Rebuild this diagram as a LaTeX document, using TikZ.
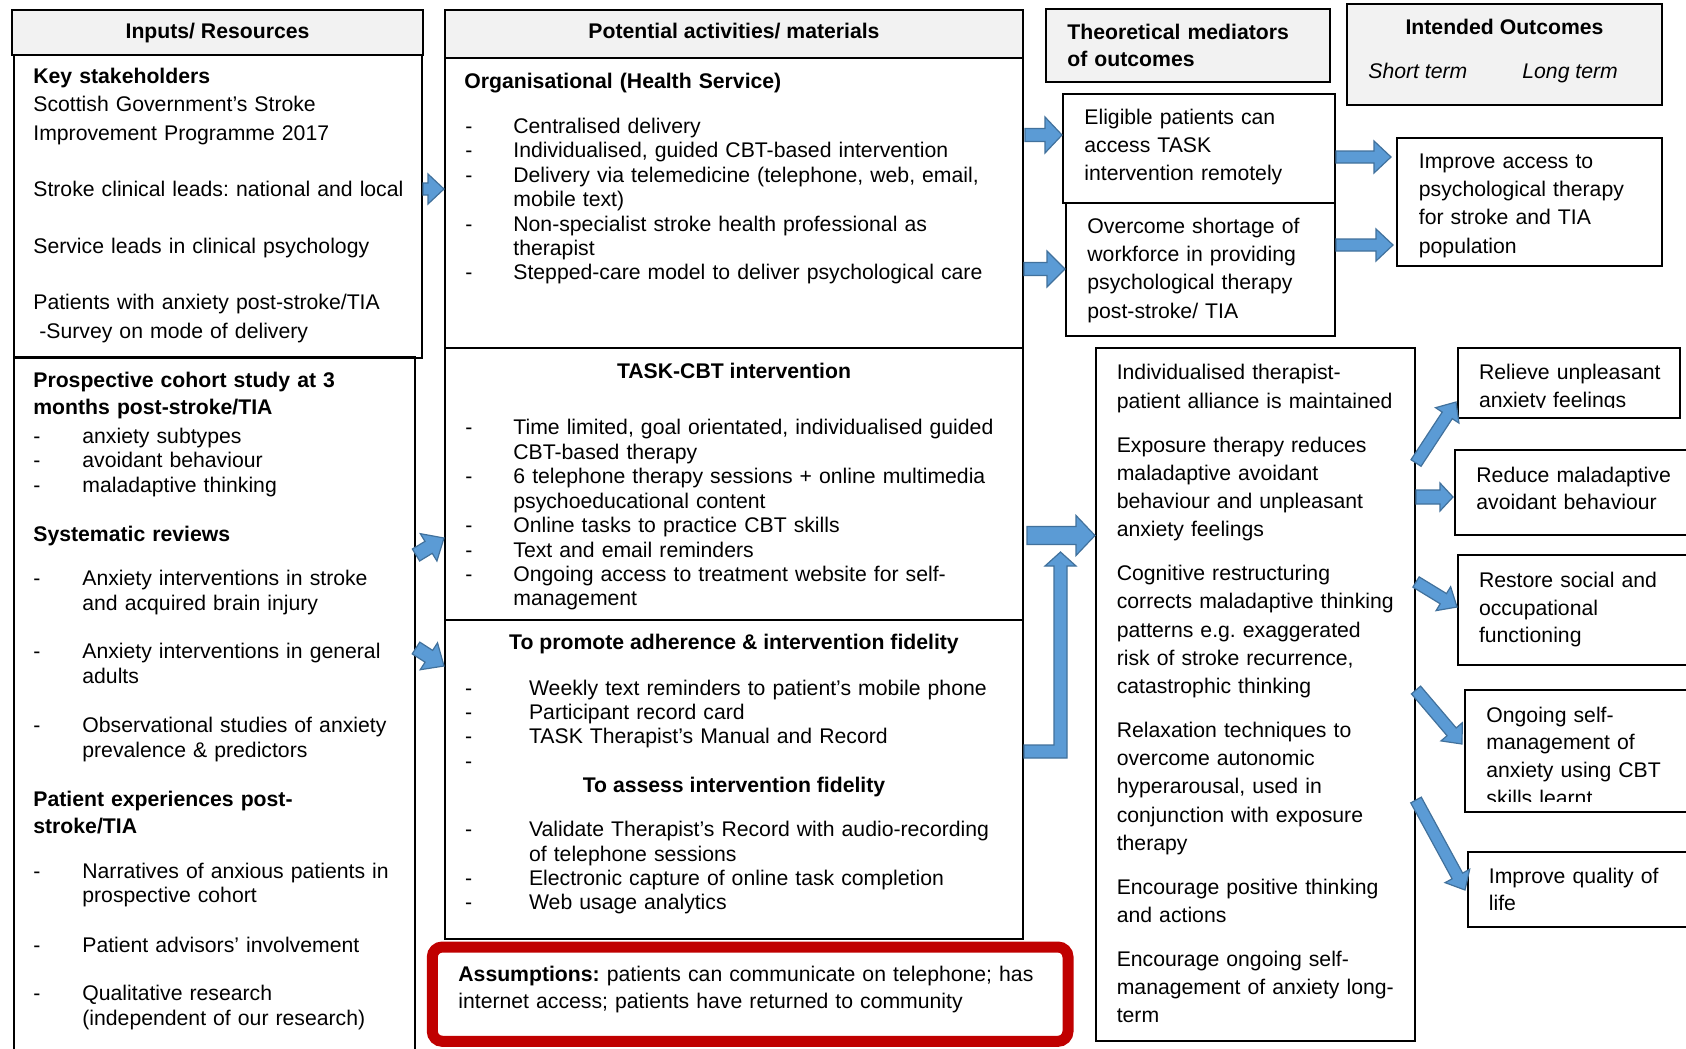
\documentclass[tikz,border=0pt]{standalone}
\usepackage{fontspec}
\setmainfont{Liberation Sans}
\usetikzlibrary{calc,fit}
\definecolor{hdrgray}{HTML}{F2F2F2}
\definecolor{arrowblue}{HTML}{5B9BD5}
\definecolor{arrowedge}{HTML}{41719C}
\definecolor{assumpred}{HTML}{C00000}
\frenchspacing
% body font at a given baseline skip
\newcommand\fs[1]{\fontsize{10.6pt}{#1}\selectfont}
% list dash hanging to the left of the item text
\newcommand\dsh[1]{\leavevmode\llap{\makebox[#1][l]{-}}}
% block arrow: tail, tip, half shaft width, half head width, head length
\newcommand\blockarrow[5]{%
  \coordinate (ba-h) at ($(#2)!#5!(#1)$);
  \draw[barrow] ($(#1)!#3!90:(#2)$) -- ($(ba-h)!#3!90:(#2)$) -- ($(ba-h)!#4!90:(#2)$) -- (#2)
    -- ($(ba-h)!#4!-90:(#2)$) -- ($(ba-h)!#3!-90:(#2)$) -- ($(#1)!#3!-90:(#2)$) -- cycle;}
\begin{document}
\begin{tikzpicture}[x=0.5pt,y=-0.5pt,
  box/.style={draw=black, line width=1pt, inner sep=0pt},
  hdr/.style={box, fill=hdrgray, line width=1.3pt},
  assum/.style={draw=assumpred, line width=5.5pt, rounded corners=5pt, fill=white, inner sep=0pt},
  barrow/.style={fill=arrowblue, draw=arrowedge, line width=0.6pt, line join=miter},
  txt/.style={anchor=base west, inner sep=0pt, align=left, text width=#1},
  ttl/.style={anchor=base, inner sep=0pt, font=\fs{13pt}\bfseries}]
\useasboundingbox (0,0) rectangle (1686,1049);
\fill[white] (0,0) rectangle (1686,1049);
\begin{scope}
\clip (0,0) rectangle (1686,1049);

% ---------------- Inputs / Resources ----------------
\node[hdr, fit={(12,10) (423,55)}] (h-inputs) {};
\node[ttl] (t-inputs) at (h-inputs.center |- 0,38.5) {Inputs/ Resources};
\node[box, fit={(14,357) (415,1060)}] (b-evid) {};
\node[box, fit={(14,55) (422,358)}] (b-stake) {};

\node[txt=192pt, font=\fs{14.15pt}] (x-stake) at (33,83.5)
  {\textbf{Key stakeholders}\\ Scottish Government’s Stroke\\ Improvement Programme 2017\\[14.15pt]
   Stroke clinical leads: national and local\\[14.15pt]
   Service leads in clinical psychology\\[14.15pt]
   Patients with anxiety post-stroke/TIA\\ \hspace*{3pt}-Survey on mode of delivery};

\node[txt=172pt, font=\fs{13.5pt}\bfseries] (x-cohort) at (33,387.5)
  {Prospective cohort study at 3\\ months post-stroke/TIA};
\node[txt=160pt, font=\fs{12.35pt}] (x-cohort-list) at (82,443)
  {\dsh{24.5pt}anxiety subtypes\\ \dsh{24.5pt}avoidant behaviour\\ \dsh{24.5pt}maladaptive thinking};
\node[txt=172pt, font=\fs{12pt}\bfseries] (x-reviews) at (33,541) {Systematic reviews};
\node[txt=164pt, font=\fs{12.35pt}] (x-reviews-list) at (82,585.5)
  {\dsh{24.5pt}Anxiety interventions in stroke\\ and acquired brain injury\\[12pt]
   \dsh{24.5pt}Anxiety interventions in general\\ adults\\[12pt]
   \dsh{24.5pt}Observational studies of anxiety\\ prevalence \& predictors};
\node[txt=172pt, font=\fs{13.5pt}\bfseries] (x-patexp) at (33,806.7)
  {Patient experiences post-\\ stroke/TIA};
\node[txt=164pt, font=\fs{12.35pt}] (x-patexp-list) at (82,878)
  {\dsh{24.5pt}Narratives of anxious patients in\\ prospective cohort\\[12.3pt]
   \dsh{24.5pt}Patient advisors’ involvement\\[12pt]
   \dsh{24.5pt}Qualitative research\\ (independent of our research)};

% ---------------- Potential activities / materials ----------------
\node[hdr, fit={(445,10) (1023,58)}] (h-act) {};
\node[ttl] (t-act) at (h-act.center |- 0,38.5) {Potential activities/ materials};
\node[box, fit={(445,58) (1023,348)}] (b-org) {};
\node[box, fit={(445,348) (1023,620)}] (b-task) {};
\node[box, fit={(445,620) (1023,939)}] (b-adh) {};

\node[txt=250pt, font=\fs{12pt}\bfseries] (x-org) at (464,88.3) {Organisational (Health Service)};
\node[txt=250pt, font=\fs{12.22pt}] (x-org-list) at (513,133.3)
  {\dsh{24pt}Centralised delivery\\
   \dsh{24pt}Individualised, guided CBT-based intervention\\
   \dsh{24pt}Delivery via telemedicine (telephone, web, email,\\ mobile text)\\
   \dsh{24pt}Non-specialist stroke health professional as\\ therapist\\
   \dsh{24pt}Stepped-care model to deliver psychological care};

\node[ttl] (t-task) at (b-task.center |- 0,378.3) {TASK-CBT intervention};
\begin{scope}
\clip (445,348) rectangle (1023,609.5);
\node[txt=250pt, font=\fs{12.22pt}] (x-task-list) at (513,434.9)
  {\dsh{24pt}Time limited, goal orientated, individualised guided\\ CBT-based therapy\\
   \dsh{24pt}6 telephone therapy sessions + online multimedia\\ psychoeducational content\\
   \dsh{24pt}Online tasks to practice CBT skills\\
   \dsh{24pt}Text and email reminders\\
   \dsh{24pt}Ongoing access to treatment website for self-\\ management};
\end{scope}

\node[ttl] (t-adh) at (b-adh.center |- 0,649.2) {To promote adherence \& intervention fidelity};
\node[txt=240pt, font=\fs{12.2pt}] (x-adh-list) at (528.7,695.1)
  {\dsh{32pt}Weekly text reminders to patient’s mobile phone\\
   \dsh{32pt}Participant record card\\
   \dsh{32pt}TASK Therapist’s Manual and Record\\
   \dsh{32pt}\mbox{}};
\node[ttl] (t-fid) at (b-adh.center |- 0,792.7) {To assess intervention fidelity};
\node[txt=240pt, font=\fs{12.2pt}] (x-fid-list) at (528.7,836.7)
  {\dsh{32pt}Validate Therapist’s Record with audio-recording\\ of telephone sessions\\
   \dsh{32pt}Electronic capture of online task completion\\
   \dsh{32pt}Web usage analytics};

\node[assum, fit={(432.3,947) (1068,1041.3)}] (b-assum) {};
\node[txt=300pt, font=\fs{13.3pt}] (x-assum) at (458,981.7)
  {\textbf{Assumptions:} patients can communicate on telephone; has\\
   internet access; patients have returned to community};

% ---------------- Theoretical mediators ----------------
\node[hdr, fit={(1046,9) (1330,82)}] (h-med) {};
\node[txt=135pt, font=\fs{13.7pt}\bfseries] (t-med) at (1067,39.3) {Theoretical mediators\\ of outcomes};

\node[box, fit={(1063,94) (1335,203)}] (b-elig) {};
\node[txt=125pt, font=\fs{14.15pt}] (x-elig) at (1084,124)
  {Eligible patients can\\ access TASK\\ intervention remotely};
\node[box, fit={(1066,203) (1335,336)}] (b-short) {};
\node[txt=125pt, font=\fs{14.15pt}] (x-short) at (1087,233.3)
  {Overcome shortage of\\ workforce in providing\\ psychological therapy\\ post-stroke/ TIA};

\node[box, fit={(1096,348) (1415,1041)}] (b-mech) {};
\node[txt=150pt, font=\fs{14.1pt}] (x-mech) at (1116.4,379.8)
  {Individualised therapist-\\ patient alliance is maintained\\[7.9pt]
   Exposure therapy reduces\\ maladaptive avoidant\\ behaviour and unpleasant\\ anxiety feelings\\[7.9pt]
   Cognitive restructuring\\ corrects maladaptive thinking\\ patterns e.g. exaggerated\\ risk of stroke recurrence,\\ catastrophic thinking\\[7.9pt]
   Relaxation techniques to\\ overcome autonomic\\ hyperarousal, used in\\ conjunction with exposure\\ therapy\\[7.9pt]
   Encourage positive thinking\\ and actions\\[7.9pt]
   Encourage ongoing self-\\ management of anxiety long-\\ term};

% ---------------- Intended outcomes ----------------
\node[hdr, fit={(1347,4) (1662,105)}] (h-out) {};
\node[ttl] (t-out) at (h-out.center |- 0,34.3) {Intended Outcomes};
\node[anchor=base west, inner sep=0pt, font=\fs{13pt}\itshape] (t-short) at (1368,78.3) {Short term};
\node[anchor=base west, inner sep=0pt, font=\fs{13pt}\itshape] (t-long) at (1522,78.3) {Long term};

\node[box, fit={(1397,138) (1662,266)}] (b-access) {};
\node[txt=125pt, font=\fs{14.15pt}] (x-access) at (1418.5,168.3)
  {Improve access to\\ psychological therapy\\ for stroke and TIA\\ population};

\node[box, fit={(1458,348) (1680,418)}] (b-relieve) {};
\begin{scope}
\clip (1458,348) rectangle (1680,407.5);
\node[txt=105pt, font=\fs{13.9pt}] (x-relieve) at (1478.6,379.8) {Relieve unpleasant\\ anxiety feelings};
\end{scope}
\node[box, fit={(1455,450) (1700,535)}] (b-reduce) {};
\node[txt=110pt, font=\fs{13.6pt}] (x-reduce) at (1476,482.4) {Reduce maladaptive\\ avoidant behaviour};
\node[box, fit={(1458,555) (1700,665)}] (b-restore) {};
\node[txt=110pt, font=\fs{13.9pt}] (x-restore) at (1478.6,587.3) {Restore social and\\ occupational\\ functioning};
\node[box, fit={(1465,690) (1700,812)}] (b-selfman) {};
\begin{scope}
\clip (1465,690) rectangle (1700,801);
\node[txt=105pt, font=\fs{13.85pt}] (x-selfman) at (1486,722)
  {Ongoing self-\\ management of\\ anxiety using CBT\\ skills learnt};
\end{scope}
\node[box, fit={(1468,852) (1700,927)}] (b-qol) {};
\node[txt=105pt, font=\fs{13.6pt}] (x-qol) at (1488.5,883.5) {Improve quality of\\ life};

% ---------------- Block arrows ----------------
\coordinate (a1s) at (b-stake.east |- 0,189);  \coordinate (a1e) at (b-org.west |- 0,189);
\coordinate (a2s) at (b-evid.east |- 0,555);   \coordinate (a2e) at (b-task.west |- 0,538);
\coordinate (a3s) at (b-evid.east |- 0,648);   \coordinate (a3e) at (b-adh.west |- 0,666);
\coordinate (a4s) at (1025,135);               \coordinate (a4e) at (b-elig.west |- 0,135);
\coordinate (a5s) at (b-org.east |- 0,269);    \coordinate (a5e) at (b-short.west |- 0,269);
\coordinate (a6s) at (b-elig.east |- 0,157);   \coordinate (a6e) at (1391,157);
\coordinate (a7s) at (b-short.east |- 0,245);  \coordinate (a7e) at (1393,245);
\coordinate (a8s) at (1027,535.5);             \coordinate (a8e) at (b-mech.west |- 0,535.5);
\coordinate (a10s) at (b-mech.east |- 0,463);  \coordinate (a10e) at (1456,402);
\coordinate (a11s) at (b-mech.east |- 0,497);  \coordinate (a11e) at (1453,497);
\coordinate (a12s) at (b-mech.east |- 0,582);  \coordinate (a12e) at (b-restore.west |- 0,607);
\coordinate (a13s) at (b-mech.east |- 0,690);  \coordinate (a13e) at (1462,744);
\coordinate (a14s) at (b-mech.east |- 0,800);  \coordinate (a14e) at (1465,890);

\blockarrow{a1s}{a1e}{3pt}{7.5pt}{8pt}
\blockarrow{a2s}{a2e}{3.5pt}{8pt}{9pt}
\blockarrow{a3s}{a3e}{3.5pt}{8pt}{9pt}
\blockarrow{a4s}{a4e}{3.25pt}{9pt}{8.5pt}
\blockarrow{a5s}{a5e}{3.25pt}{9pt}{9pt}
\blockarrow{a6s}{a6e}{3pt}{8pt}{8.5pt}
\blockarrow{a7s}{a7e}{3pt}{8pt}{8.5pt}
\blockarrow{a8s}{a8e}{4.5pt}{10pt}{9.5pt}
\blockarrow{a10s}{a10e}{3pt}{7pt}{8pt}
\blockarrow{a11s}{a11e}{3.5pt}{7pt}{6.5pt}
\blockarrow{a12s}{a12e}{3pt}{7pt}{8pt}
\blockarrow{a13s}{a13e}{3pt}{7pt}{8pt}
\blockarrow{a14s}{a14e}{3pt}{7pt}{8pt}

% elbow arrow from the adherence box up into the mediators arrow
\coordinate (a9s) at (b-adh.east |- 0,751.5);
\draw[barrow] (a9s |- 0,745) -- (1054,745) -- (1054,566) -- (1045,566) -- (1060.5,552)
  -- (1076,566) -- (1067,566) -- (1067,758) -- (a9s |- 0,758) -- cycle;

\end{scope}
\end{tikzpicture}
\end{document}
